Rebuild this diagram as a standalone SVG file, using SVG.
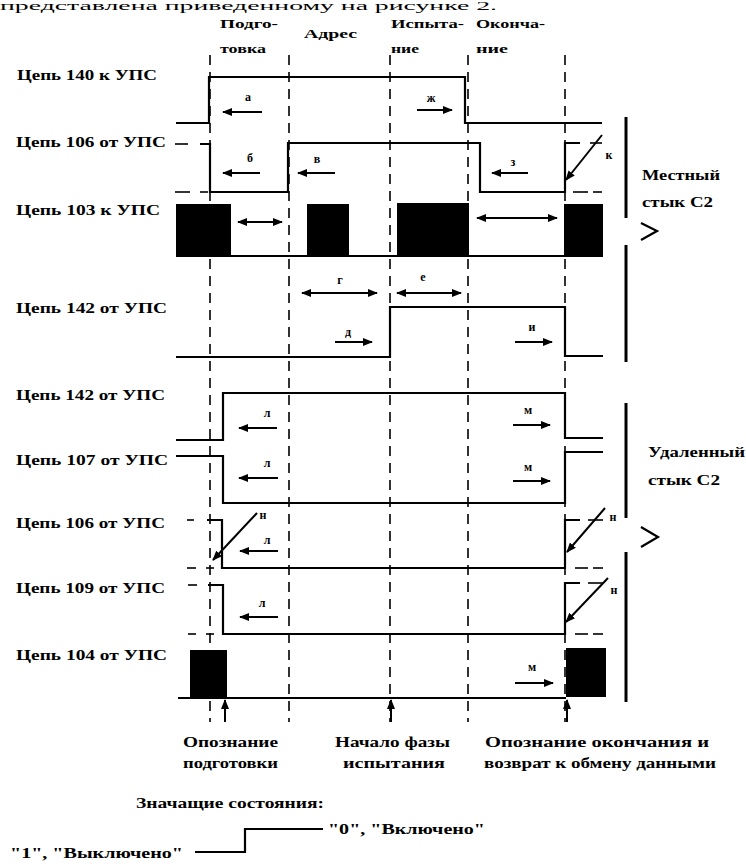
<svg xmlns="http://www.w3.org/2000/svg" width="746" height="866" viewBox="0 0 746 866">
<style>
text{font-family:"Liberation Serif","Times New Roman",serif;font-weight:bold;fill:#000}
.lbl{font-size:15px}
.ph{font-size:13px}
.let{font-size:12px;text-anchor:middle}
.bot{font-size:14px}
.sig{fill:none;stroke:#000;stroke-width:2.2}
.thin{fill:none;stroke:#000;stroke-width:1.6}
.grid{fill:none;stroke:#000;stroke-width:1.6;stroke-dasharray:10 7}
.bar{fill:none;stroke:#000;stroke-width:3}
.blk{fill:#000}
.arr{fill:none;stroke:#000;stroke-width:2;marker-end:url(#ah)}
.darr{fill:none;stroke:#000;stroke-width:2;marker-end:url(#ah);marker-start:url(#ah)}
</style>
<defs>
<marker id="ah" markerUnits="userSpaceOnUse" markerWidth="10" markerHeight="8" refX="9" refY="4" orient="auto-start-reverse">
<path d="M0,0 L10,4 L0,8 z" fill="#000"/>
</marker>
</defs>
<rect width="746" height="866" fill="#fff"/>
<text x="0" y="10" style="font-size:12px;font-weight:normal" textLength="497" lengthAdjust="spacingAndGlyphs">представлена приведенному на рисунке 2.</text>

<g id="phases">
<text class="ph" x="220" y="28" textLength="58" lengthAdjust="spacingAndGlyphs">Подго-</text>
<text class="ph" x="220" y="53" textLength="46" lengthAdjust="spacingAndGlyphs">товка</text>
<text class="ph" x="304" y="38" textLength="53" lengthAdjust="spacingAndGlyphs">Адрес</text>
<text class="ph" x="391" y="28" textLength="73" lengthAdjust="spacingAndGlyphs">Испыта-</text>
<text class="ph" x="391" y="53" textLength="28" lengthAdjust="spacingAndGlyphs">ние</text>
<text class="ph" x="476" y="28" textLength="69" lengthAdjust="spacingAndGlyphs">Оконча-</text>
<text class="ph" x="476" y="53" textLength="32" lengthAdjust="spacingAndGlyphs">ние</text>
</g>

<g id="grid">
<line class="grid" x1="210" y1="55" x2="210" y2="722"/>
<line class="grid" x1="289" y1="55" x2="289" y2="722"/>
<line class="grid" x1="390" y1="55" x2="390" y2="722"/>
<line class="grid" x1="468" y1="55" x2="468" y2="722"/>
<line class="grid" x1="565" y1="55" x2="565" y2="722"/>
</g>

<g id="sig-140">
<text class="lbl" x="17" y="80" textLength="140" lengthAdjust="spacingAndGlyphs">Цепь 140 к УПС</text>
<polyline class="sig" points="176,123 209,123 209,77 465,77 465,123 602,123"/>
</g>

<g id="sig-106-local">
<text class="lbl" x="16" y="147" textLength="150" lengthAdjust="spacingAndGlyphs">Цепь 106 от УПС</text>
<line class="thin" x1="175" y1="144" x2="188" y2="144"/>
<polyline class="sig" points="200,144 210,144 210,192 288,192 288,143 480,143 480,192 565,192 565,143 580,143"/>
<line class="thin" x1="590" y1="143" x2="602" y2="143"/>
<line class="thin" x1="175" y1="192" x2="190" y2="192"/>
<line class="thin" x1="200" y1="192" x2="208" y2="192"/>
<line class="thin" x1="573" y1="192" x2="588" y2="192"/>
<line class="thin" x1="593" y1="192" x2="602" y2="192"/>
</g>

<g id="sig-103">
<text class="lbl" x="16" y="215" textLength="144" lengthAdjust="spacingAndGlyphs">Цепь 103 к УПС</text>
<rect class="blk" x="176" y="204" width="55" height="53"/>
<rect class="blk" x="307" y="204" width="42" height="53"/>
<rect class="blk" x="397" y="203" width="72" height="54"/>
<rect class="blk" x="564" y="204" width="39" height="53"/>
<line class="sig" x1="231" y1="256" x2="564" y2="256"/>
</g>

<g id="sig-142-local">
<text class="lbl" x="16" y="313" textLength="151" lengthAdjust="spacingAndGlyphs">Цепь 142 от УПС</text>
<polyline class="sig" points="176,357 390,357 390,307 565,307 565,356 603,356"/>
</g>

<g id="sig-142-remote">
<text class="lbl" x="16" y="400" textLength="149" lengthAdjust="spacingAndGlyphs">Цепь 142 от УПС</text>
<polyline class="sig" points="176,440 223,440 223,393 565,393 565,438 603,438"/>
</g>

<g id="sig-107">
<text class="lbl" x="16" y="465" textLength="152" lengthAdjust="spacingAndGlyphs">Цепь 107 от УПС</text>
<polyline class="sig" points="176,456 223,456 223,503 565,503 565,452 603,452"/>
</g>

<g id="sig-106-remote">
<text class="lbl" x="16" y="528" textLength="149" lengthAdjust="spacingAndGlyphs">Цепь 106 от УПС</text>
<line class="thin" x1="187" y1="520" x2="194" y2="520"/>
<polyline class="sig" points="207,520 222,520 222,568 565,568 565,520 580,520"/>
<line class="thin" x1="588" y1="520" x2="603" y2="520"/>
<line class="thin" x1="187" y1="568" x2="196" y2="568"/>
<line class="thin" x1="206" y1="568" x2="214" y2="568"/>
<line class="thin" x1="575" y1="568" x2="588" y2="568"/>
<line class="thin" x1="593" y1="568" x2="603" y2="568"/>
</g>

<g id="sig-109">
<text class="lbl" x="16" y="593" textLength="149" lengthAdjust="spacingAndGlyphs">Цепь 109 от УПС</text>
<line class="thin" x1="188" y1="585" x2="197" y2="585"/>
<polyline class="sig" points="208,585 223,585 223,634 565,634 565,583 580,583"/>
<line class="thin" x1="588" y1="583" x2="603" y2="583"/>
<line class="thin" x1="188" y1="634" x2="196" y2="634"/>
<line class="thin" x1="206" y1="634" x2="214" y2="634"/>
<line class="thin" x1="575" y1="634" x2="588" y2="634"/>
<line class="thin" x1="593" y1="634" x2="603" y2="634"/>
</g>

<g id="sig-104">
<text class="lbl" x="16" y="660" textLength="151" lengthAdjust="spacingAndGlyphs">Цепь 104 от УПС</text>
<rect class="blk" x="190" y="650" width="37" height="48"/>
<line class="sig" x1="178" y1="698" x2="566" y2="698"/>
<rect class="blk" x="566" y="648" width="40" height="49"/>
</g>

<g id="local-c2">
<line class="bar" x1="626" y1="117" x2="626" y2="218"/>
<polyline class="sig" points="641,223 657,231 641,240"/>
<line class="bar" x1="626" y1="245" x2="626" y2="362"/>
<text class="lbl" x="642" y="180" textLength="78" lengthAdjust="spacingAndGlyphs">Местный</text>
<text class="lbl" x="642" y="207" textLength="71" lengthAdjust="spacingAndGlyphs">стык С2</text>
</g>

<g id="remote-c2">
<line class="bar" x1="626" y1="403" x2="626" y2="518"/>
<polyline class="sig" points="641,527 658,537 641,547"/>
<line class="bar" x1="626" y1="552" x2="626" y2="702"/>
<text class="lbl" x="648" y="457" textLength="97" lengthAdjust="spacingAndGlyphs">Удаленный</text>
<text class="lbl" x="648" y="485" textLength="72" lengthAdjust="spacingAndGlyphs">стык С2</text>
</g>

<g id="connectors">
<line class="arr" x1="262" y1="112" x2="223" y2="112"/>
<line class="arr" x1="417" y1="110" x2="452" y2="110"/>
<line class="arr" x1="260" y1="173" x2="223" y2="173"/>
<line class="arr" x1="335" y1="173" x2="298" y2="173"/>
<line class="arr" x1="528" y1="173" x2="492" y2="173"/>
<line class="arr" x1="602" y1="135" x2="566" y2="180"/>
<line class="darr" x1="238" y1="222" x2="282" y2="222"/>
<line class="darr" x1="477" y1="218" x2="557" y2="218"/>
<line class="darr" x1="302" y1="293" x2="377" y2="293"/>
<line class="darr" x1="397" y1="293" x2="461" y2="293"/>
<line class="arr" x1="335" y1="342" x2="372" y2="342"/>
<line class="arr" x1="515" y1="342" x2="552" y2="342"/>
<line class="arr" x1="277" y1="428" x2="239" y2="428"/>
<line class="arr" x1="513" y1="425" x2="550" y2="425"/>
<line class="arr" x1="278" y1="478" x2="239" y2="478"/>
<line class="arr" x1="513" y1="481" x2="550" y2="481"/>
<line class="arr" x1="257" y1="513" x2="213" y2="560"/>
<line class="arr" x1="278" y1="551" x2="240" y2="551"/>
<line class="arr" x1="605" y1="508" x2="567" y2="552"/>
<line class="arr" x1="278" y1="617" x2="240" y2="617"/>
<line class="arr" x1="608" y1="578" x2="566" y2="622"/>
<line class="arr" x1="515" y1="683" x2="553" y2="683"/>
<line class="arr" x1="225" y1="722" x2="225" y2="700"/>
<line class="arr" x1="391" y1="722" x2="391" y2="700"/>
<line class="arr" x1="567" y1="722" x2="567" y2="700"/>
</g>

<g id="arrow-labels">
<text class="let" x="248" y="101">а</text>
<text class="let" x="431" y="102">ж</text>
<text class="let" x="250" y="162">б</text>
<text class="let" x="317" y="163">в</text>
<text class="let" x="513" y="166">з</text>
<text class="let" x="609" y="159">к</text>
<text class="let" x="340" y="284">г</text>
<text class="let" x="423" y="281">е</text>
<text class="let" x="348" y="336">д</text>
<text class="let" x="532" y="331">и</text>
<text class="let" x="267" y="417">л</text>
<text class="let" x="528" y="414">м</text>
<text class="let" x="267" y="467">л</text>
<text class="let" x="528" y="471">м</text>
<text class="let" x="263" y="519">н</text>
<text class="let" x="267" y="544">л</text>
<text class="let" x="613" y="521">н</text>
<text class="let" x="262" y="607">л</text>
<text class="let" x="614" y="594">н</text>
<text class="let" x="532" y="671">м</text>
</g>

<g id="bottom-notes">
<text class="bot" x="183" y="747" textLength="95" lengthAdjust="spacingAndGlyphs">Опознание</text>
<text class="bot" x="183" y="768" textLength="95" lengthAdjust="spacingAndGlyphs">подготовки</text>
<text class="bot" x="335" y="747" textLength="115" lengthAdjust="spacingAndGlyphs">Начало фазы</text>
<text class="bot" x="343" y="768" textLength="102" lengthAdjust="spacingAndGlyphs">испытания</text>
<text class="bot" x="485" y="747" textLength="224" lengthAdjust="spacingAndGlyphs">Опознание окончания и</text>
<text class="bot" x="484" y="768" textLength="232" lengthAdjust="spacingAndGlyphs">возврат к обмену данными</text>
</g>

<g id="legend">
<text class="bot" x="136" y="808" textLength="188" lengthAdjust="spacingAndGlyphs">Значащие состояния:</text>
<polyline class="sig" points="195,852 245,852 245,829 323,829"/>
<text class="bot" x="328" y="834" textLength="157" lengthAdjust="spacingAndGlyphs">"0", "Включено"</text>
<text class="bot" x="10" y="858" textLength="173" lengthAdjust="spacingAndGlyphs">"1", "Выключено"</text>
</g>
</svg>
